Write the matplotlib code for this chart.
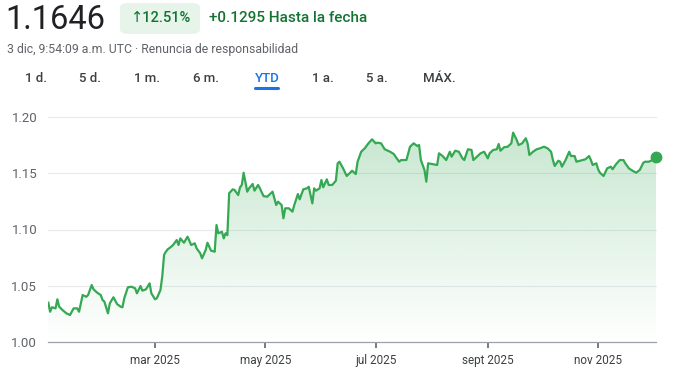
import numpy as np
import pandas as pd
import matplotlib
matplotlib.use("Agg")
import matplotlib.pyplot as plt
import matplotlib.dates as mdates
from matplotlib.patches import FancyBboxPatch

# EUR/USD year to date
dates = [
    "2025-01-01", "2025-01-02", "2025-01-03", "2025-01-05", "2025-01-06", "2025-01-07",
    "2025-01-09", "2025-01-11", "2025-01-13", "2025-01-15", "2025-01-17", "2025-01-18",
    "2025-01-20", "2025-01-22", "2025-01-23", "2025-01-25", "2025-01-26", "2025-01-28",
    "2025-01-30", "2025-01-31", "2025-02-01", "2025-02-03", "2025-02-04", "2025-02-06",
    "2025-02-08", "2025-02-10", "2025-02-11", "2025-02-12", "2025-02-14", "2025-02-16",
    "2025-02-18", "2025-02-19", "2025-02-21", "2025-02-22", "2025-02-24", "2025-02-26",
    "2025-02-27", "2025-03-01", "2025-03-02", "2025-03-04", "2025-03-05", "2025-03-06",
    "2025-03-07", "2025-03-08", "2025-03-10", "2025-03-11", "2025-03-13", "2025-03-14",
    "2025-03-15", "2025-03-17", "2025-03-19", "2025-03-21", "2025-03-23", "2025-03-24",
    "2025-03-26", "2025-03-27", "2025-03-29", "2025-03-30", "2025-03-31", "2025-04-01",
    "2025-04-03", "2025-04-04", "2025-04-05", "2025-04-07", "2025-04-08", "2025-04-09",
    "2025-04-10", "2025-04-11", "2025-04-13", "2025-04-14", "2025-04-16", "2025-04-17",
    "2025-04-18", "2025-04-19", "2025-04-21", "2025-04-22", "2025-04-24", "2025-04-25",
    "2025-04-27", "2025-04-28", "2025-04-30", "2025-05-02", "2025-05-05", "2025-05-06",
    "2025-05-07", "2025-05-08", "2025-05-10", "2025-05-11", "2025-05-12", "2025-05-14",
    "2025-05-16", "2025-05-17", "2025-05-19", "2025-05-20", "2025-05-22", "2025-05-24",
    "2025-05-25", "2025-05-27", "2025-05-28", "2025-05-29", "2025-05-31", "2025-06-01",
    "2025-06-02", "2025-06-04", "2025-06-05", "2025-06-07", "2025-06-09", "2025-06-10",
    "2025-06-11", "2025-06-13", "2025-06-15", "2025-06-18", "2025-06-20", "2025-06-21",
    "2025-06-23", "2025-06-25", "2025-06-27", "2025-06-29", "2025-07-01", "2025-07-02",
    "2025-07-04", "2025-07-06", "2025-07-09", "2025-07-11", "2025-07-12", "2025-07-14",
    "2025-07-15", "2025-07-18", "2025-07-20", "2025-07-22", "2025-07-24", "2025-07-25",
    "2025-07-26", "2025-07-28", "2025-07-29", "2025-07-30", "2025-08-01", "2025-08-04",
    "2025-08-05", "2025-08-07", "2025-08-09", "2025-08-11", "2025-08-12", "2025-08-14",
    "2025-08-16", "2025-08-18", "2025-08-19", "2025-08-21", "2025-08-23", "2025-08-24",
    "2025-08-26", "2025-08-28", "2025-08-30", "2025-09-01", "2025-09-02", "2025-09-04",
    "2025-09-06", "2025-09-07", "2025-09-08", "2025-09-10", "2025-09-12", "2025-09-14",
    "2025-09-15", "2025-09-17", "2025-09-18", "2025-09-20", "2025-09-22", "2025-09-23",
    "2025-09-24", "2025-09-26", "2025-09-28", "2025-09-30", "2025-10-02", "2025-10-04",
    "2025-10-06", "2025-10-07", "2025-10-08", "2025-10-10", "2025-10-11", "2025-10-12",
    "2025-10-14", "2025-10-16", "2025-10-17", "2025-10-19", "2025-10-20", "2025-10-22",
    "2025-10-25", "2025-10-27", "2025-10-28", "2025-10-29", "2025-10-31", "2025-11-01",
    "2025-11-02", "2025-11-04", "2025-11-06", "2025-11-08", "2025-11-09", "2025-11-11",
    "2025-11-13", "2025-11-15", "2025-11-16", "2025-11-18", "2025-11-20", "2025-11-22",
    "2025-11-24", "2025-11-26", "2025-11-27", "2025-11-29", "2025-12-01", "2025-12-03",
]
rates = [
    1.0348, 1.0267, 1.0307, 1.0297, 1.0378, 1.0312,
    1.0280, 1.0253, 1.0238, 1.0297, 1.0297, 1.0267,
    1.0416, 1.0400, 1.0416, 1.0505, 1.0467, 1.0437,
    1.0416, 1.0372, 1.0357, 1.0253, 1.0342, 1.0396,
    1.0336, 1.0312, 1.0307, 1.0387, 1.0485, 1.0490,
    1.0476, 1.0431, 1.0496, 1.0455, 1.0467, 1.0520,
    1.0431, 1.0378, 1.0387, 1.0460, 1.0580, 1.0773,
    1.0802, 1.0823, 1.0847, 1.0862, 1.0906, 1.0862,
    1.0921, 1.0882, 1.0936, 1.0862, 1.0877, 1.0832,
    1.0788, 1.0743, 1.0817, 1.0882, 1.0847, 1.0811,
    1.0802, 1.1040, 1.0966, 1.0980, 1.0921, 1.0966,
    1.0950, 1.1323, 1.1358, 1.1352, 1.1307, 1.1376,
    1.1397, 1.1506, 1.1337, 1.1367, 1.1406, 1.1346,
    1.1397, 1.1367, 1.1298, 1.1292, 1.1337, 1.1278,
    1.1218, 1.1248, 1.1218, 1.1100, 1.1189, 1.1189,
    1.1159, 1.1218, 1.1316, 1.1269, 1.1358, 1.1367,
    1.1381, 1.1233, 1.1367, 1.1346, 1.1367, 1.1441,
    1.1376, 1.1447, 1.1397, 1.1397, 1.1435, 1.1590,
    1.1604, 1.1545, 1.1477, 1.1524, 1.1494, 1.1604,
    1.1693, 1.1724, 1.1768, 1.1804, 1.1768, 1.1774,
    1.1768, 1.1715, 1.1693, 1.1673, 1.1649, 1.1604,
    1.1619, 1.1619, 1.1738, 1.1768, 1.1744, 1.1753,
    1.1619, 1.1530, 1.1426, 1.1590, 1.1584, 1.1575,
    1.1679, 1.1655, 1.1619, 1.1693, 1.1649, 1.1702,
    1.1693, 1.1634, 1.1619, 1.1715, 1.1709, 1.1619,
    1.1649, 1.1679, 1.1693, 1.1634, 1.1679, 1.1709,
    1.1715, 1.1762, 1.1702, 1.1733, 1.1738, 1.1768,
    1.1863, 1.1798, 1.1753, 1.1768, 1.1813, 1.1768,
    1.1664, 1.1693, 1.1715, 1.1724, 1.1738, 1.1724,
    1.1693, 1.1619, 1.1566, 1.1613, 1.1604, 1.1560,
    1.1619, 1.1693, 1.1655, 1.1655, 1.1604, 1.1613,
    1.1626, 1.1655, 1.1619, 1.1575, 1.1590, 1.1537,
    1.1506, 1.1477, 1.1545, 1.1560, 1.1537, 1.1584,
    1.1619, 1.1619, 1.1590, 1.1545, 1.1524, 1.1506,
    1.1530, 1.1595, 1.1604, 1.1604, 1.1619, 1.1646,
]
tick_dates = ["2025-03-01", "2025-05-01", "2025-07-01", "2025-09-01", "2025-11-01"]
tick_labels = ["mar 2025", "may 2025", "jul 2025", "sept 2025", "nov 2025"]
y_ticks = [1.00, 1.05, 1.10, 1.15, 1.20]

price = "1.1646"
change_pct = "↑12.51%"
change_abs = "+0.1295 Hasta la fecha"
subtitle = "3 dic, 9:54:09 a.m. UTC · Renuncia de responsabilidad"
ranges = ["1 d.", "5 d.", "1 m.", "6 m.", "YTD", "1 a.", "5 a.", "MÁX."]

GREEN = "#34a853"
DARK_GREEN = "#137333"
GRAY = "#5f6368"
FONT = ["Roboto", "DejaVu Sans"]

plt.rcParams["font.family"] = FONT

W, H = 683, 379
fig = plt.figure(figsize=(W / 100, H / 100), dpi=100)

def px(x, y):
    return x / W, 1 - y / H

x = pd.to_datetime(dates)
xn = mdates.date2num(x)
y = np.array(rates)

ax = fig.add_axes([48.3 / W, 1 - 341.7 / H, (656 - 48.3) / W, (341.7 - 117.3) / H])
ax.set_xlim(mdates.date2num(pd.Timestamp("2025-01-01")), mdates.date2num(pd.Timestamp("2025-12-03")))
ax.set_ylim(1.0, 1.2)

# gradient fill under the line
grad = np.zeros((256, 2, 4))
rgb = matplotlib.colors.to_rgb(GREEN)
grad[..., 0], grad[..., 1], grad[..., 2] = rgb
grad[..., 3] = np.linspace(0.28, 0.0, 256)[:, None]
im = ax.imshow(grad, aspect="auto", extent=[xn[0], xn[-1], 1.0, 1.19],
               origin="upper", zorder=1, interpolation="bilinear")
poly = ax.fill_between(xn, y, 1.0, color="none", lw=0)
clip = poly.get_paths()[0]
im.set_clip_path(clip, transform=ax.transData)

ax.plot(xn, y, color=GREEN, lw=1.6, zorder=3, solid_joinstyle="round")
ax.plot(xn[-1], y[-1], "o", color=GREEN, ms=7.5, zorder=4, clip_on=False)

for v in y_ticks[1:]:
    ax.axhline(v, color="#e8eaed", lw=0.8, zorder=0, clip_on=False)

for s in ["top", "right", "left"]:
    ax.spines[s].set_visible(False)
ax.spines["bottom"].set_color("#9aa0a6")
ax.spines["bottom"].set_linewidth(0.9)

ax.set_yticks(y_ticks)
ax.set_yticklabels([f"{v:.2f}" for v in y_ticks])
ax.tick_params(axis="y", length=0, pad=8, labelsize=9.5, labelcolor=GRAY)
ax.set_xticks(mdates.date2num(pd.to_datetime(tick_dates)))
ax.set_xticklabels(tick_labels)
ax.tick_params(axis="x", length=4, width=1.2, color="#5f6368", pad=5,
               labelsize=8.5, labelcolor="#3c4043")

# header
fig.text(*px(5, 20), price, fontsize=23.5, color="#202124", va="center", ha="left")
badge = FancyBboxPatch(px(120, 34), 80 / W, 31 / H,
                       boxstyle="round,pad=0,rounding_size=0.012",
                       transform=fig.transFigure, fc="#e6f4ea", ec="none")
fig.patches.append(badge)
fig.text(*px(161, 18), change_pct, fontsize=10.5, color=DARK_GREEN,
         ha="center", va="center", fontweight="medium")
fig.text(*px(209, 18), change_abs, fontsize=11, color=DARK_GREEN,
         ha="left", va="center", fontweight="medium")
fig.text(*px(7, 49), subtitle, fontsize=8.8, color=GRAY, ha="left", va="center")

tab_x = [36, 90, 147, 206, 267, 323, 377, 439]
for tx, lab in zip(tab_x, ranges):
    col = "#1a73e8" if lab == "YTD" else "#3c4043"
    fig.text(*px(tx, 78), lab, fontsize=9.5, color=col, ha="center", va="center",
             fontweight="medium")
fig.add_artist(plt.Line2D([255 / W, 278 / W], [1 - 88 / H] * 2, color="#1a73e8",
                          lw=2.2, transform=fig.transFigure, solid_capstyle="round"))

fig.savefig("out.png", dpi=100)
